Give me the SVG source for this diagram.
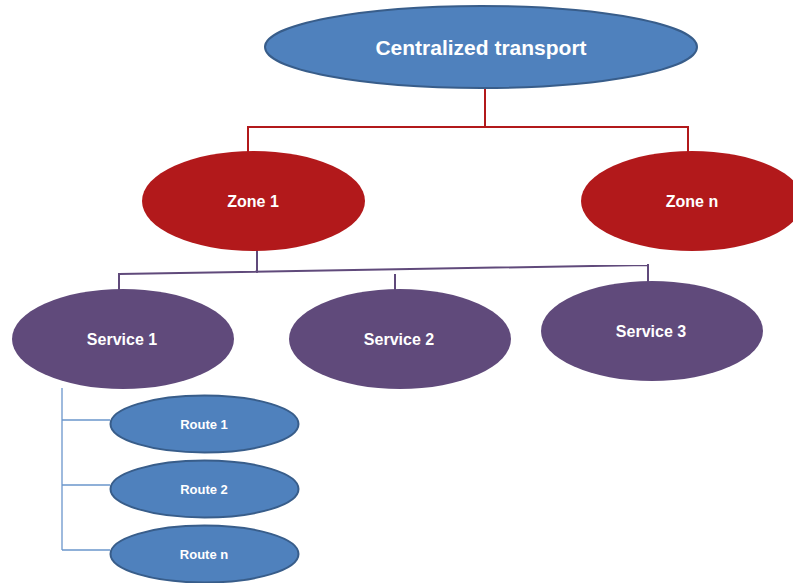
<svg xmlns="http://www.w3.org/2000/svg" width="793" height="583" viewBox="0 0 793 583">
  <style>
    .lbl { font-family: "Liberation Sans", Arial, sans-serif; font-weight: bold; fill: #ffffff; text-anchor: middle; dominant-baseline: central; }
    .root { fill: #4f81bd; stroke: #385d8a; stroke-width: 2; }
    .zone { fill: #b2191b; }
    .svc { fill: #604a7b; }
    .route { fill: #4f81bd; stroke: #385d8a; stroke-width: 2; }
    .red { stroke: #b2191b; stroke-width: 2; fill: none; }
    .purple { stroke: #604a7b; stroke-width: 2; fill: none; }
    .blue { stroke: #6b96cc; stroke-width: 1.3; fill: none; }
  </style>
  <rect width="793" height="583" fill="#ffffff"/>

  <g id="connectors">
    <!-- transport to zones -->
    <path class="red" d="M485 88 V127 M248 127 H688 M248 126 V152 M688 126 V152"/>
    <!-- zone 1 to services -->
    <path class="purple" d="M257 250 V273 M119 274 L648 265 M119 273 V290 M395 274 V290 M648 264 V282"/>
    <!-- service 1 to routes -->
    <path class="blue" d="M62 388 V550 M62 420 H110 M62 485 H110 M62 550 H110"/>
  </g>

  <g id="centralized-transport">
    <ellipse class="root" cx="481" cy="47" rx="216" ry="41"/>
    <text class="lbl" x="481" y="47" font-size="21">Centralized transport</text>
  </g>

  <g id="zone-1">
    <ellipse class="zone" cx="253.5" cy="201" rx="111.5" ry="50"/>
    <text class="lbl" x="253" y="201" font-size="16">Zone 1</text>
  </g>
  <g id="zone-n">
    <ellipse class="zone" cx="692" cy="201" rx="111" ry="50"/>
    <text class="lbl" x="692" y="201" font-size="16">Zone n</text>
  </g>

  <g id="service-1">
    <ellipse class="svc" cx="123" cy="339" rx="111" ry="50"/>
    <text class="lbl" x="122" y="339" font-size="16">Service 1</text>
  </g>
  <g id="service-2">
    <ellipse class="svc" cx="400" cy="339" rx="111" ry="50"/>
    <text class="lbl" x="399" y="339" font-size="16">Service 2</text>
  </g>
  <g id="service-3">
    <ellipse class="svc" cx="652" cy="331" rx="111" ry="50"/>
    <text class="lbl" x="651" y="331" font-size="16">Service 3</text>
  </g>

  <g id="route-1">
    <ellipse class="route" cx="204.5" cy="424" rx="94" ry="28.5"/>
    <text class="lbl" x="204" y="424" font-size="13">Route 1</text>
  </g>
  <g id="route-2">
    <ellipse class="route" cx="204.5" cy="489" rx="94" ry="28.5"/>
    <text class="lbl" x="204" y="489" font-size="13">Route 2</text>
  </g>
  <g id="route-n">
    <ellipse class="route" cx="204.5" cy="554" rx="94" ry="28.5"/>
    <text class="lbl" x="204" y="554" font-size="13">Route n</text>
  </g>
</svg>
